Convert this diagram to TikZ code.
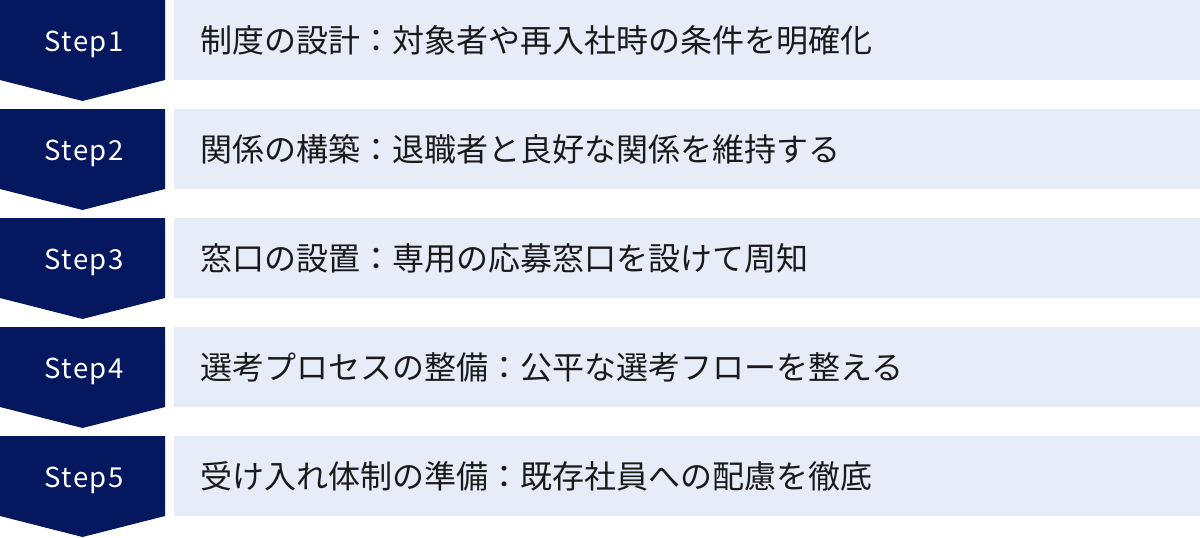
\documentclass[tikz,border=0pt]{standalone}
\usepackage{fontspec}
\setmainfont{Noto Sans CJK JP}
\newfontfamily\stepfont[LetterSpace=6]{Noto Sans CJK JP}
\definecolor{navy}{HTML}{05185F}
\definecolor{pale}{HTML}{E6ECF8}
\definecolor{ink}{HTML}{1A1A1A}
\tikzset{
  chev/.style={fill=navy, draw=none},
  band/.style={fill=pale, draw=none},
  steplabel/.style={text=white, font=\stepfont\fontsize{27.5}{32}\selectfont, inner sep=0pt, anchor=base},
  desc/.style={text=ink, font=\fontsize{32}{38}\selectfont, inner sep=0pt, anchor=west},
}
\begin{document}
\begin{tikzpicture}[x=1pt,y=-1pt]
\useasboundingbox (0,0) rectangle (1200,538);
\foreach \i/\t in {0/{制度の設計：対象者や再入社時の条件を明確化},
                   1/{関係の構築：退職者と良好な関係を維持する},
                   2/{窓口の設置：専用の応募窓口を設けて周知},
                   3/{選考プロセスの整備：公平な選考フローを整える},
                   4/{受け入れ体制の準備：既存社員への配慮を徹底}}{
  \pgfmathsetmacro{\yy}{\i*109}
  \path[chev] (0,\yy) -- (165,\yy) -- (165,\yy+80) -- (82.5,\yy+101) -- (0,\yy+80) -- cycle;
  \path[band] (174,\yy) rectangle (1200,\yy+80);
  \pgfmathtruncatemacro{\n}{\i+1}
  \node[steplabel] (step\n) at (84,\yy+51) {Step\n};
  \node[desc] (desc\n) at (200,\yy+40) {\t};
}
\end{tikzpicture}
\end{document}
